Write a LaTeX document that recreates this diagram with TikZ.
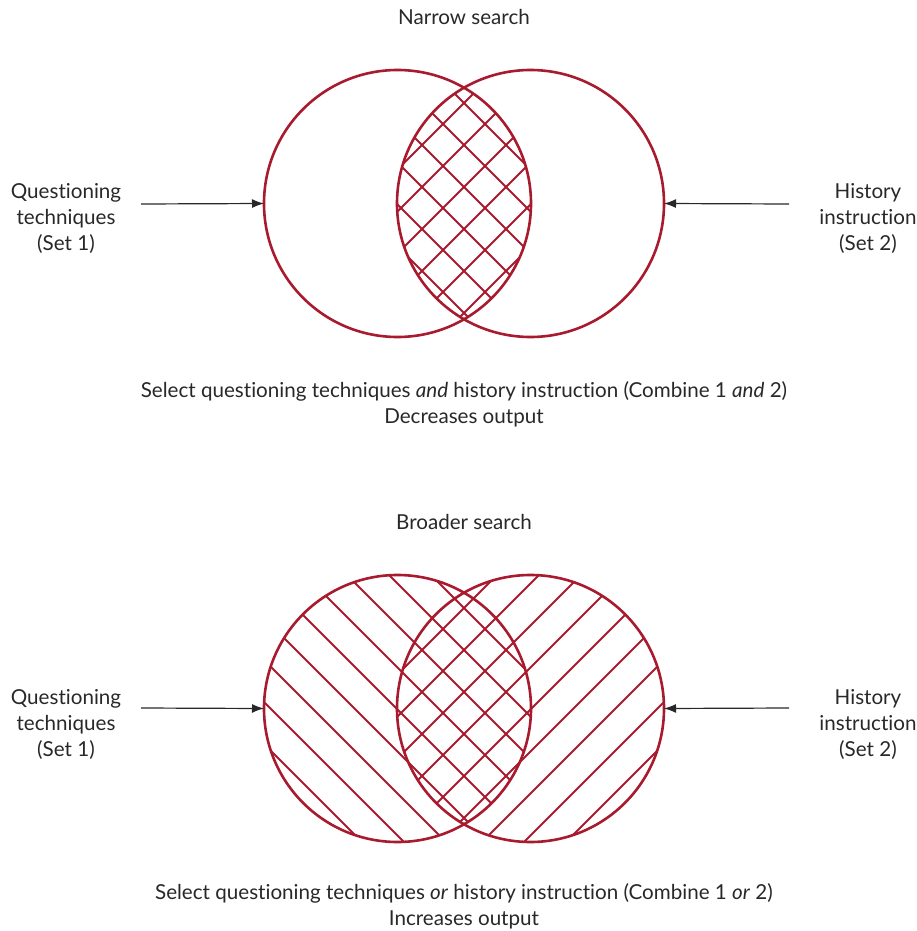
\documentclass[tikz,border=0pt]{standalone}
\usepackage{fontspec}
\setmainfont{Lato}[Ligatures={NoCommon}]
\usetikzlibrary{arrows.meta}
\definecolor{venn}{RGB}{168,26,46}
\definecolor{txt}{RGB}{40,40,40}
\begin{document}
\begin{tikzpicture}[x=1pt,y=-1pt,
  lbl/.style={text=txt,font=\fontsize{20.6}{26}\selectfont,align=center,inner sep=0pt},
  ring/.style={draw=venn,line width=2.6pt},
  hatch/.style={draw=venn,line width=2pt},
  arr/.style={draw=txt,line width=1.2pt,-{Latex[length=12pt,width=9pt]}}]
\useasboundingbox (0,0) rectangle (916,931);
\def\R{133.5}
% ---------- top (narrow search) ----------
\coordinate (A) at (397.5,203.5);
\coordinate (B) at (530.5,203.5);
\begin{scope}
  \clip (A) circle (\R);
  \clip (B) circle (\R);
  \foreach \k in {-10,...,10}{
    \pgfmathsetmacro\c{277+42*\k}
    \draw[hatch] (\c+40,40) -- (\c+380,380);
    \pgfmathsetmacro\d{651+42*\k}
    \draw[hatch] (\d-40,40) -- (\d-380,380);
  }
\end{scope}
\draw[ring] (A) circle (\R);
\draw[ring] (B) circle (\R);
\node[lbl] (t1) at (464,17) {Narrow search};
\node[lbl] (q1) at (66,218) {Questioning\\techniques\\(Set 1)};
\node[lbl] (h1) at (868,218) {History\\instruction\\(Set 2)};
\coordinate (qa1) at (141,204);
\coordinate (ha1) at (789,204);
\path (A) ++(180:\R) coordinate (Al);
\path (B) ++(0:\R) coordinate (Br);
\draw[arr] (qa1) -- (Al);
\draw[arr] (ha1) -- (Br);
\node[lbl] (c1) at (464,404.5) {Select questioning techniques \emph{and} history instruction (Combine 1 \emph{and} 2)\\Decreases output};
% ---------- bottom (broader search) ----------
\coordinate (C) at (397.5,708.5);
\coordinate (D) at (530.5,708.5);
\begin{scope}
  \clip (C) circle (\R);
  \foreach \k in {-14,...,8}{
    \pgfmathsetmacro\c{-228+42*\k}
    \draw[hatch] (\c+560,560) -- (\c+860,860);
  }
\end{scope}
\begin{scope}
  \clip (D) circle (\R);
  \foreach \k in {-8,...,14}{
    \pgfmathsetmacro\d{1156+42*\k}
    \draw[hatch] (\d-560,560) -- (\d-860,860);
  }
\end{scope}
\draw[ring] (C) circle (\R);
\draw[ring] (D) circle (\R);
\node[lbl] (t2) at (464,522) {Broader search};
\node[lbl] (q2) at (66,724) {Questioning\\techniques\\(Set 1)};
\node[lbl] (h2) at (868,724) {History\\instruction\\(Set 2)};
\coordinate (qa2) at (141,708);
\coordinate (ha2) at (789,708);
\path (C) ++(180:\R) coordinate (Cl);
\path (D) ++(0:\R) coordinate (Dr);
\draw[arr] (qa2) -- (Cl);
\draw[arr] (ha2) -- (Dr);
\node[lbl] (c2) at (464,906) {Select questioning techniques \emph{or} history instruction (Combine 1 \emph{or} 2)\\Increases output};
\end{tikzpicture}
\end{document}
